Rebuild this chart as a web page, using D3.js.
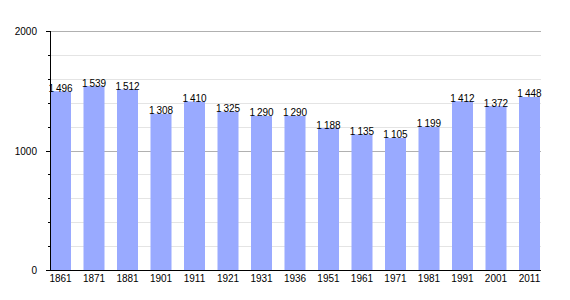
<!DOCTYPE html>
<html>
<head>
<meta charset="utf-8">
<script src="https://cdn.jsdelivr.net/npm/d3@7"></script>
<style>
  body { margin: 0; background: #fff; }
  text { font-family: "Liberation Sans", Arial, sans-serif; font-size: 10px; fill: #000; }
</style>
</head>
<body>
<div id="chart"></div>
<script>
// années du recensement et population
var annees = ["1861","1871","1881","1901","1911","1921","1931","1936","1951","1961","1971","1981","1991","2001","2011"];
var population = [1496,1539,1512,1308,1410,1325,1290,1290,1188,1135,1105,1199,1412,1372,1448];
var ticksMajeurs = [0,1000,2000];
var ticksMineurs = [200,400,600,800,1200,1400,1600,1800];

var width = 570, height = 300;
var gauche = 50, droite = 541, haut = 31, bas = 270;

var svg = d3.select("#chart").append("svg")
    .attr("width", width)
    .attr("height", height);

var x = d3.scaleBand()
    .domain(annees)
    .range([gauche, 540])
    .paddingInner(0.373)
    .paddingOuter(0);

var y = d3.scaleLinear()
    .domain([0, 2000])
    .range([bas, haut]);

// grille
svg.append("g").selectAll("line")
    .data(ticksMineurs)
  .enter().append("line")
    .attr("x1", gauche).attr("x2", droite)
    .attr("y1", d => Math.round(y(d)) + 0.5).attr("y2", d => Math.round(y(d)) + 0.5)
    .style("stroke", "#e4e4e4");

svg.append("g").selectAll("line")
    .data([1000, 2000])
  .enter().append("line")
    .attr("x1", gauche).attr("x2", droite)
    .attr("y1", d => Math.round(y(d)) + 0.5).attr("y2", d => Math.round(y(d)) + 0.5)
    .style("stroke", "#b0b0b0");

// barres
svg.append("g").selectAll("rect")
    .data(population)
  .enter().append("rect")
    .attr("x", (d, i) => x(annees[i]))
    .attr("width", x.bandwidth())
    .attr("y", d => y(d))
    .attr("height", d => y(0) - y(d))
    .style("fill", "#99aaff");

// étiquettes des valeurs, espace fine comme séparateur
var fmt = d => d3.format(",")(d).replace(",", "\u2009");
svg.append("g").selectAll("text")
    .data(population)
  .enter().append("text")
    .attr("x", (d, i) => x(annees[i]) + x.bandwidth() / 2)
    .attr("y", d => y(d) + 0.5)
    .attr("text-anchor", "middle")
    .text(fmt);

// axe y
var axeY = svg.append("g");
axeY.append("line")
    .attr("x1", gauche + 0.5).attr("x2", gauche + 0.5)
    .attr("y1", haut).attr("y2", bas)
    .style("stroke", "#000");
axeY.selectAll(".mineur")
    .data(ticksMineurs)
  .enter().append("line")
    .attr("x1", gauche - 2).attr("x2", gauche)
    .attr("y1", d => Math.round(y(d)) + 0.5).attr("y2", d => Math.round(y(d)) + 0.5)
    .style("stroke", "#000");
axeY.selectAll(".majeur")
    .data(ticksMajeurs)
  .enter().append("line")
    .attr("x1", gauche - 4).attr("x2", gauche)
    .attr("y1", d => Math.round(y(d)) + 0.5).attr("y2", d => Math.round(y(d)) + 0.5)
    .style("stroke", "#000");
axeY.selectAll("text")
    .data(ticksMajeurs)
  .enter().append("text")
    .attr("x", 37)
    .attr("y", d => y(d) + 4)
    .attr("text-anchor", "end")
    .text(d => d);

// axe x
svg.append("line")
    .attr("x1", gauche).attr("x2", droite)
    .attr("y1", bas + 0.5).attr("y2", bas + 0.5)
    .style("stroke", "#000");
svg.append("g").selectAll("text")
    .data(annees)
  .enter().append("text")
    .attr("x", d => x(d) + x.bandwidth() / 2)
    .attr("y", 282)
    .attr("text-anchor", "middle")
    .text(d => d);
</script>
</body>
</html>
